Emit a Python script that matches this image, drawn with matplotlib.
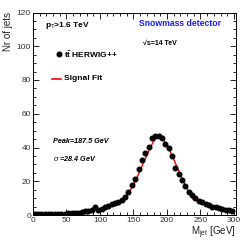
import matplotlib
matplotlib.use("Agg")
import matplotlib.pyplot as plt
from matplotlib.ticker import MultipleLocator

plt.rcParams['font.family'] = ['Liberation Sans', 'DejaVu Sans']
plt.rcParams['mathtext.fontset'] = 'custom'
plt.rcParams['mathtext.rm'] = 'Liberation Sans'
plt.rcParams['mathtext.it'] = 'Liberation Sans:italic'
plt.rcParams['mathtext.bf'] = 'Liberation Sans:bold'

# jet mass histogram (5 GeV bins)
mjet = [2.5 + 5 * i for i in range(60)]
njets = [0.3, 0.3, 0.4, 0.4, 0.5, 0.5, 0.6, 0.6, 0.7, 0.8,
         0.9, 1.0, 1.1, 1.3, 1.8, 2.3, 2.6, 3.0, 4.5, 2.8,
         3.6, 4.8, 5.6, 6.4, 7.2, 7.8, 8.9, 10.5, 13.5, 17.5,
         21.5, 27.0, 32.5, 36.5, 40.5, 45.5, 47.0, 46.8, 45.5, 42.0,
         39.5, 35.0, 28.0, 24.5, 20.5, 17.0, 13.5, 12.0, 10.0, 8.5,
         7.5, 6.5, 6.0, 5.0, 4.5, 4.0, 3.6, 3.2, 2.8, 2.2]

# signal fit curve
fit_m = [140, 145, 150, 155, 160, 165, 170, 175, 180, 185, 187.5,
         190, 195, 200, 205, 210, 215, 220, 225, 230, 235, 240]
fit_n = [11.8, 14.5, 18.0, 22.0, 26.5, 31.0, 35.5, 40.0, 43.5, 46.0, 46.5,
         46.3, 44.5, 41.5, 37.5, 33.0, 28.5, 24.0, 19.5, 15.5, 12.0, 9.0]

fig = plt.figure(figsize=(2.52, 2.40), dpi=100)
ax = fig.add_axes([33 / 252, 25 / 240, 203 / 252, 202.5 / 240])

ax.plot(fit_m, fit_n, color='red', lw=1.0, zorder=2)
ax.plot(mjet, njets, 'o', color='black', ms=3.3, zorder=3)

ax.set_xlim(0, 303)
ax.set_ylim(0, 120)
ax.xaxis.set_major_locator(MultipleLocator(50))
ax.xaxis.set_minor_locator(MultipleLocator(10))
ax.yaxis.set_major_locator(MultipleLocator(20))
ax.yaxis.set_minor_locator(MultipleLocator(5))
ax.tick_params(which='both', direction='in', top=True, right=True,
               labelsize=6, labelcolor='#333333', pad=1.5, width=0.6)
ax.tick_params(which='major', length=4)
ax.tick_params(which='minor', length=2)
for s in ax.spines.values():
    s.set_linewidth(0.7)

tr = ax.transAxes
ax.text(0.059, 0.938, r'p$_{\mathrm{T}}$>1.6 TeV', transform=tr, fontsize=6,
        fontweight='bold', va='center', ha='left')
ax.text(0.522, 0.948, 'Snowmass detector', transform=tr, fontsize=6.2,
        fontweight='bold', color='#1a1aff', va='center', ha='left')
ax.text(0.542, 0.849, '√s=14 TeV', transform=tr, fontsize=5,
        fontweight='bold', va='center', ha='left')

# legend
ax.plot([0.128], [0.795], 'o', color='black', ms=3.3, transform=tr, clip_on=False)
ax.text(0.153, 0.79, r'$\mathbf{t\bar{t}}$ HERWIG++', transform=tr, fontsize=6,
        fontweight='bold', va='center', ha='left')
ax.plot([0.094, 0.138], [0.672, 0.672], color='red', lw=1.2, transform=tr,
        clip_on=False)
ax.text(0.153, 0.672, 'Signal Fit', transform=tr, fontsize=6,
        fontweight='bold', va='center', ha='left')

ax.text(0.099, 0.362, 'Peak=187.5 GeV', transform=tr, fontsize=5.2,
        fontweight='bold', style='italic', va='center', ha='left')
ax.text(0.099, 0.277, r'$\sigma$ =28.4 GeV', transform=tr, fontsize=5.2,
        fontweight='bold', style='italic', va='center', ha='left')

fig.text(236 / 252, 1 - 233 / 240, r'M$_{\mathrm{jet}}$ [GeV]', fontsize=7,
         ha='right', va='center', color='#222222')
fig.text(8 / 252, 1 - 12 / 240, 'Nr of jets', fontsize=7, rotation=90,
         ha='center', va='top', color='#222222')

fig.savefig('out.png', dpi=100)
